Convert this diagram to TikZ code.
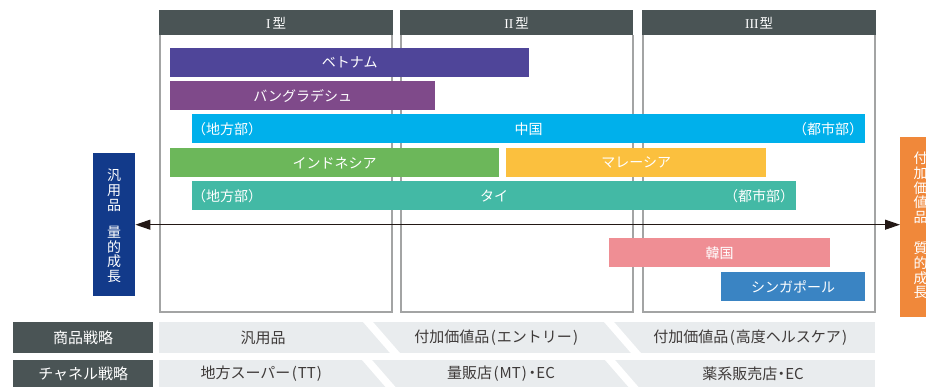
\documentclass[tikz,border=0pt]{standalone}
\usepackage{fontspec}
\newfontfamily\jp{Noto Sans CJK JP}
\newfontfamily\romanf{Liberation Serif}
\usetikzlibrary{arrows.meta}
\definecolor{hdr}{HTML}{4A5455}
\definecolor{framec}{HTML}{A3A4A4}
\definecolor{band}{HTML}{E9ECEE}
\definecolor{bandtxt}{HTML}{3E3A39}
\definecolor{cvn}{HTML}{4F4599}
\definecolor{cbd}{HTML}{7F4A8A}
\definecolor{ccn}{HTML}{00B0EB}
\definecolor{cid}{HTML}{6CB75A}
\definecolor{cmy}{HTML}{FBC03E}
\definecolor{cth}{HTML}{43B9A5}
\definecolor{ckr}{HTML}{EF8E94}
\definecolor{csg}{HTML}{3A84C3}
\definecolor{cblue}{HTML}{123A8A}
\definecolor{corange}{HTML}{F0883A}
\definecolor{arrc}{HTML}{231815}
\tikzset{
  hdrbox/.style={fill=hdr, text=white, inner sep=0pt, anchor=north west, minimum height=25pt,
    font=\fontsize{13.5}{15}\selectfont},
  frame/.style={draw=framec, line width=1.6pt},
  bar/.style={inner sep=0pt, anchor=north west, minimum height=29pt, text=white,
    font=\jp\fontsize{14}{16}\selectfont},
  bartxt/.style={inner sep=0pt, text=white, font=\jp\fontsize{14}{16}\selectfont},
  labbox/.style={fill=hdr, text=white, inner sep=0pt, anchor=north west, minimum width=140pt,
    font=\jp\fontsize{15}{17}\selectfont},
  bandbox/.style={fill=band, inner sep=0pt, anchor=north west, minimum width=716pt},
  bandtext/.style={inner sep=0pt, text=bandtxt, font=\jp\fontsize{15}{17}\selectfont},
  sidebox/.style={inner sep=0pt, anchor=north west},
  vtext/.style={inner sep=0pt, text=white, align=center, font=\jp\fontsize{14}{14.8}\selectfont},
  arr/.style={draw=arrc, line width=1pt, {Triangle[length=15pt,width=10pt]}-{Triangle[length=15pt,width=10pt]}}
}
\newcommand{\sepstripe}[3]{\fill[white] (#1,#2) -- ++(10,0) -- ++(0.87*#3,#3) -- ++(-10,0) -- cycle;}
\newcommand{\lp}{\kern1.5pt(\kern1pt}
\newcommand{\rp}{\kern1pt)\kern1.5pt}
\newcommand{\mdot}{\kern-3.5pt・\kern-3.5pt}
\begin{document}
\begin{tikzpicture}[x=1pt,y=-1pt]
\useasboundingbox (0,0) rectangle (926,387);
% panel frames
\draw[frame] (160,35) -- (160,312) -- (392,312) -- (392,35);
\draw[frame] (401,35) -- (401,312) -- (633,312) -- (633,35);
\draw[frame] (643,35) -- (643,312) -- (875,312) -- (875,35);
% headers
\node[hdrbox, minimum width=234pt] (h1) at (159,10) {{\romanf I}\kern2pt{\jp 型}};
\node[hdrbox, minimum width=233pt] (h2) at (400,10) {{\romanf II}\kern2pt{\jp 型}};
\node[hdrbox, minimum width=234pt] (h3) at (642,10) {{\romanf III}\kern1pt{\jp 型}};
% bars
\node[bar, fill=cvn, minimum width=359pt] (vn) at (170,48) {ベトナム};
\node[bar, fill=cbd, minimum width=265pt] (bd) at (170,81) {バングラデシュ};
\node[bar, fill=ccn, minimum width=673pt] (cn) at (192,114) {中国};
\node[bartxt, anchor=west] (cnl) at ([xshift=0pt]cn.west) {（地方部）};
\node[bartxt, anchor=east] (cnr) at ([xshift=-2pt]cn.east) {（都市部）};
\node[bar, fill=cid, minimum width=329pt] (id) at (170,148) {インドネシア};
\node[bar, fill=cmy, minimum width=260pt] (my) at (506,148) {マレーシア};
\node[bar, fill=cth, minimum width=604pt] (th) at (192,181) {タイ};
\node[bartxt, anchor=west] (thl) at ([xshift=0pt]th.west) {（地方部）};
\node[bartxt, anchor=east] (thr) at ([xshift=-2pt]th.east) {（都市部）};
\node[bar, fill=ckr, minimum width=221pt] (kr) at (609,238) {韓国};
\node[bar, fill=csg, minimum width=144pt] (sg) at (721,272) {シンガポール};
% side boxes
\node[sidebox, fill=cblue, minimum width=42pt, minimum height=143pt] (lbox) at (93,153) {};
\node[vtext] (ltxt) at (114,226) {汎\\用\\品\\[12pt]量\\的\\成\\長};
\node[sidebox, fill=corange, minimum width=44pt, minimum height=180pt] (rbox) at (900,137) {};
\node[vtext] (rtxt) at (920.5,225.5) {付\\加\\価\\値\\品\\[16pt]質\\的\\成\\長};
% arrow
\draw[arr] (lbox.east) -- (rbox.west |- lbox.east);
% bottom rows
\node[labbox, minimum height=31pt] (lab1) at (13,322) {商品戦略};
\node[labbox, minimum height=27pt] (lab2) at (13,360) {チャネル戦略};
\node[bandbox, minimum height=31pt] (band1) at (159,322) {};
\node[bandbox, minimum height=27pt] (band2) at (159,360) {};
\sepstripe{363}{322}{31}
\sepstripe{604}{322}{31}
\sepstripe{362}{360}{27}
\sepstripe{605}{360}{27}
\node[bandtext] (p1) at (263,337.5) {汎用品};
\node[bandtext] (p2) at (497,337.5) {付加価値品\lp エントリー\rp};
\node[bandtext] (p3) at (751,337.5) {付加価値品\lp 高度ヘルスケア\rp};
\node[bandtext] (c1) at (262,373.5) {地方スーパー\lp TT\rp};
\node[bandtext] (c2) at (501,373.5) {量販店\lp MT\rp\mdot EC};
\node[bandtext] (c3) at (753,373.5) {薬系販売店\mdot EC};
\end{tikzpicture}
\end{document}
